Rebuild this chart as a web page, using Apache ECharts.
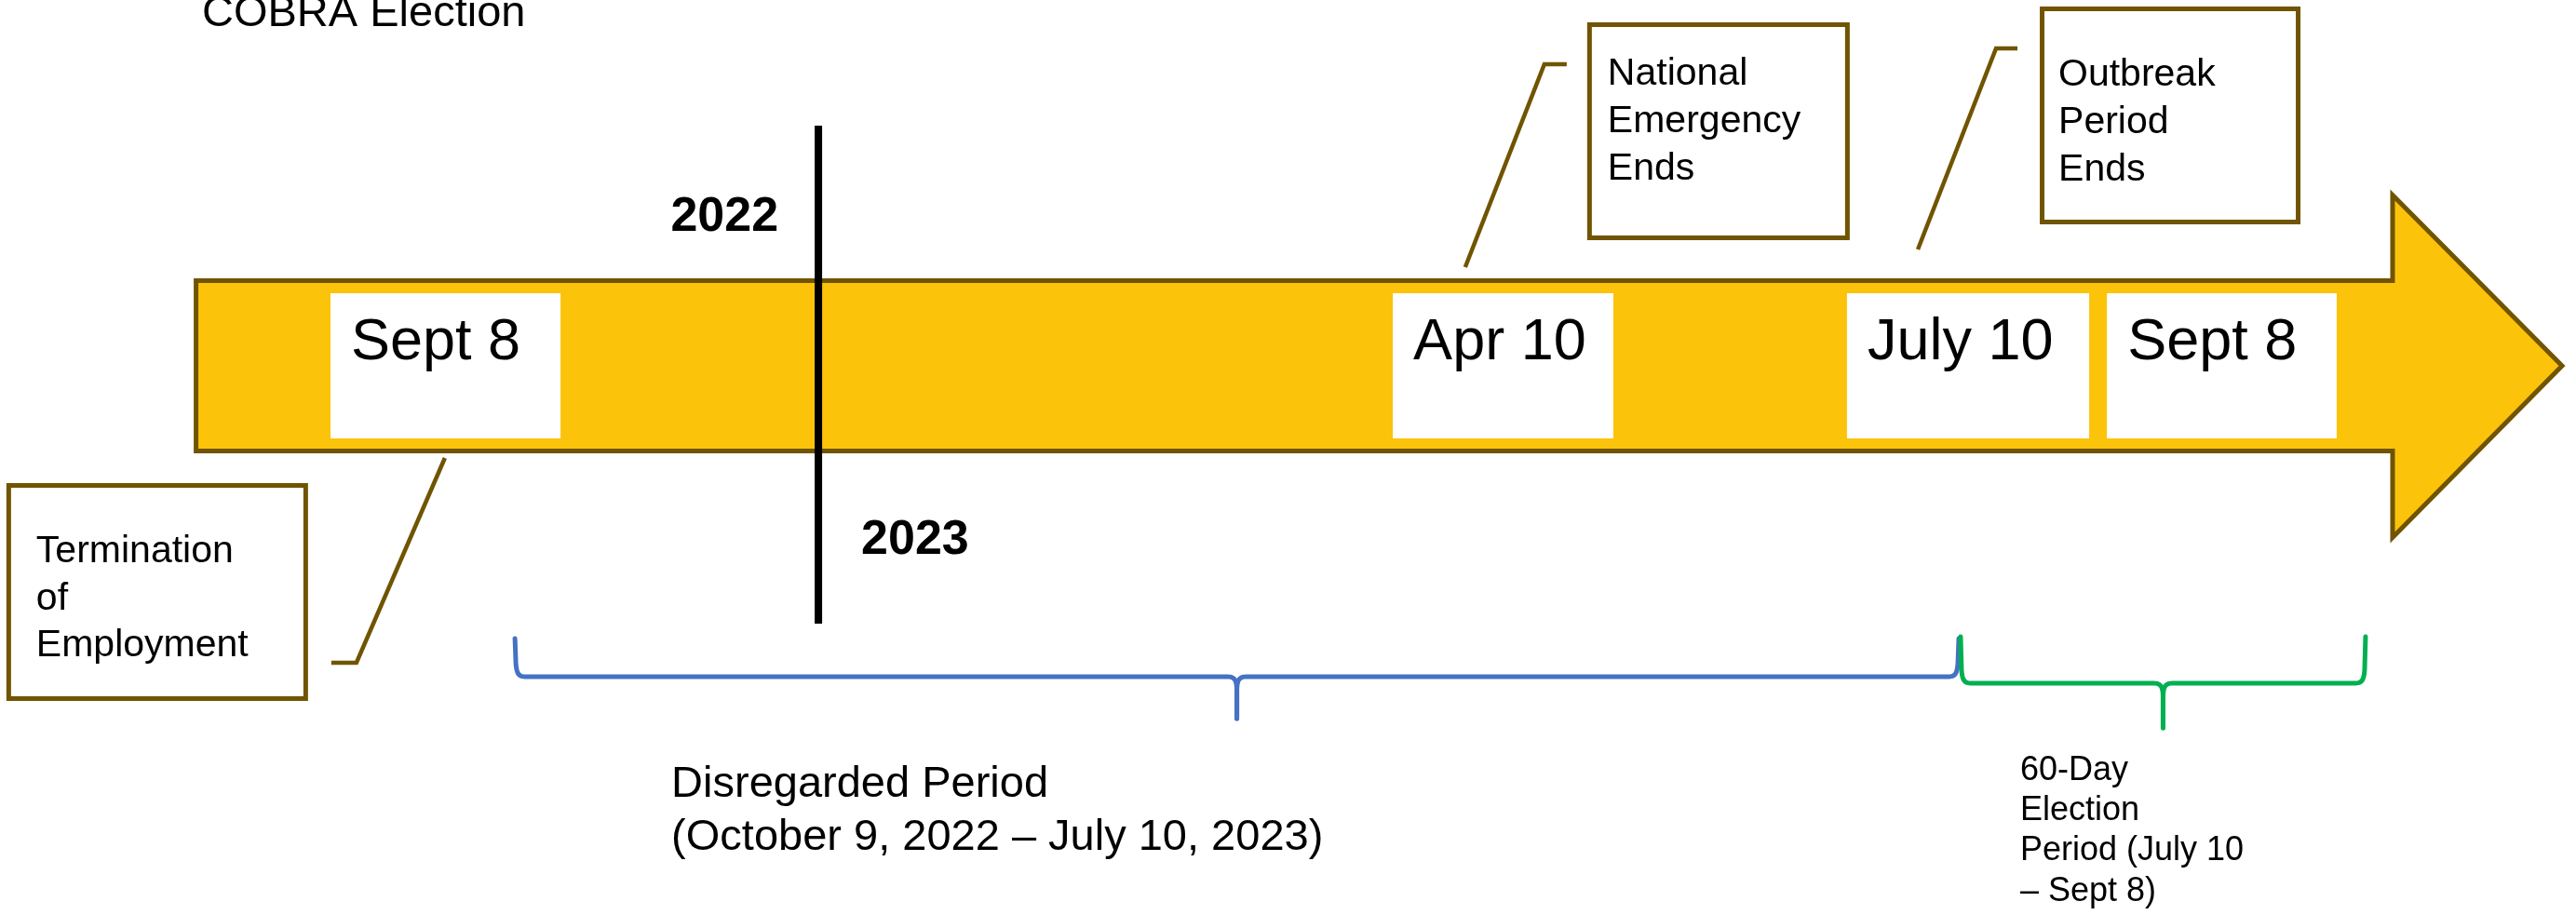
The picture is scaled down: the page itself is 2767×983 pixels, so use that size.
<!DOCTYPE html>
<html><head><meta charset="utf-8">
<script src="https://cdn.jsdelivr.net/npm/echarts@6/dist/echarts.min.js"></script>
<style>html,body{margin:0;padding:0;background:#fff}#c{width:2767px;height:983px}</style>
</head><body><div id="c"></div>
<script>
// ---------- DATA (schematic positions along the timeline, 0–100) ----------
const titleText = 'COBRA Election';
const dateLabels = ['Sept 8', 'Apr 10', 'July 10', 'Sept 8'];
const dateStart = [12.83, 54.07, 71.70, 81.79];
const dateEnd = [21.76, 62.63, 81.10, 90.71];
const timelineRange = [7.61, 92.88, 99.46];          // start, arrow-head base, tip
const yearBoundary = [31.77];
const yearLabels = ['2022', '2023'];
const calloutLabels = ['Termination\nof\nEmployment', 'National\nEmergency\nEnds', 'Outbreak\nPeriod\nEnds'];
const calloutAnchor = [17.27, 56.88, 74.45];
const periodLabels = ['Disregarded Period\n(October 9, 2022 – July 10, 2023)', '60-Day\nElection\nPeriod (July 10\n– Sept 8)'];
const periodStart = [19.99, 76.11];
const periodEnd = [76.04, 91.83];

// ---------- LAYOUT / STYLE ----------
const FONT = '"Liberation Sans", Arial, Helvetica, sans-serif';
const CAP_SHIFT = 0.075;   // em correction: canvas "middle" vs. cap-height centre
const GOLD = '#FCC30B', BROWN = '#705400';
const BAR = {top: 301.5, bottom: 484.5, headTop: 209.5, headBottom: 577.5, mid: 393, lw: 5};
const DATEBOX = {top: 315, bottom: 471, padX: 22, capY: 363.5, fontSize: 63};
const DIVIDER = {top: 135, bottom: 670, width: 8, upperCapY: 230, lowerCapY: 576.5, gapL: 43, gapR: 46, fontSize: 52};
const CALLOUT = [
  {tipY: 492, elbowDx: -95, elbowY: 712, endDx: -122, box: [-471, 519, -147, 753], textDx: 32, textY: 590, fontSize: 41, lh: 50.5},
  {tipY: 287, elbowDx: 85, elbowY: 69, endDx: 109, box: [131, 24, 413, 258], textDx: 22, textY: 77, fontSize: 41, lh: 51},
  {tipY: 268, elbowDx: 84, elbowY: 52, endDx: 107, box: [131, 7, 411, 241], textDx: 20, textY: 78, fontSize: 41, lh: 51}
];
const PERIOD = [
  {color: '#4472C4', top: 686, h: 727, tip: 772, textDx: 168, textY: 840, fontSize: 47, lh: 57},
  {color: '#00B050', top: 684, h: 734, tip: 782, textDx: 64, textY: 825, fontSize: 36, lh: 43.3}
];
const cy = (capCenter, fs) => capCenter + CAP_SHIFT * fs;

function bez(p0, p1, p2, p3, n) {
  const pts = [];
  for (let i = 1; i <= n; i++) {
    const t = i / n, u = 1 - t;
    pts.push([u*u*u*p0[0] + 3*u*u*t*p1[0] + 3*u*t*t*p2[0] + t*t*t*p3[0],
              u*u*u*p0[1] + 3*u*u*t*p1[1] + 3*u*t*t*p2[1] + t*t*t*p3[1]]);
  }
  return pts;
}
function halfBrace(xe, xm, L, dir) {
  const r = 14;
  const pts = [[xe, L.top], [xe + dir * 1, L.h - r]];
  pts.push(...bez([xe + dir, L.h - r], [xe + dir * 2, L.h], [xe + dir * 6, L.h], [xe + dir * r, L.h], 10));
  pts.push([xm - dir * 10, L.h]);
  pts.push(...bez([xm - dir * 10, L.h], [xm - dir * 2, L.h], [xm, L.h + 4], [xm, L.h + 16], 10));
  pts.push([xm, L.tip]);
  return pts;
}

const chart = echarts.init(document.getElementById('c'), null, {renderer: 'canvas'});
const X = (api, v) => api.coord([v, 0])[0];

chart.setOption({
  animation: false,
  backgroundColor: '#ffffff',
  grid: {left: 0, right: 0, top: 0, bottom: 0},
  xAxis: {type: 'value', min: 0, max: 100, show: false},
  yAxis: {type: 'value', min: 0, max: 1, show: false},
  graphic: [{
    type: 'text', x: 217, y: cy(12, 47),
    style: {text: titleText, font: '47px ' + FONT, fill: '#000', verticalAlign: 'middle', align: 'left'}
  }],
  series: [
    { // timeline arrow
      type: 'custom', z: 1,
      data: [timelineRange],
      renderItem: (p, api) => {
        const x0 = X(api, api.value(0)), xn = X(api, api.value(1)), xt = X(api, api.value(2));
        return {type: 'polygon',
          shape: {points: [[x0, BAR.top], [xn, BAR.top], [xn, BAR.headTop], [xt, BAR.mid], [xn, BAR.headBottom], [xn, BAR.bottom], [x0, BAR.bottom]]},
          style: {fill: GOLD, stroke: BROWN, lineWidth: BAR.lw, lineJoin: 'miter'}};
      }
    },
    { // date boxes
      type: 'custom', z: 2,
      data: dateStart.map((s, i) => [s, dateEnd[i]]),
      renderItem: (p, api) => {
        const x0 = X(api, api.value(0)), x1 = X(api, api.value(1));
        return {type: 'group', children: [
          {type: 'rect', shape: {x: x0, y: DATEBOX.top, width: x1 - x0, height: DATEBOX.bottom - DATEBOX.top}, style: {fill: '#fff'}},
          {type: 'text', style: {text: dateLabels[p.dataIndex], x: x0 + DATEBOX.padX, y: cy(DATEBOX.capY, DATEBOX.fontSize),
            font: DATEBOX.fontSize + 'px ' + FONT, fill: '#000', align: 'left', verticalAlign: 'middle'}}
        ]};
      }
    },
    { // year boundary
      type: 'custom', z: 3,
      data: yearBoundary.map(v => [v]),
      renderItem: (p, api) => {
        const x = X(api, api.value(0));
        return {type: 'group', children: [
          {type: 'rect', shape: {x: x - DIVIDER.width / 2, y: DIVIDER.top, width: DIVIDER.width, height: DIVIDER.bottom - DIVIDER.top}, style: {fill: '#000'}},
          {type: 'text', style: {text: yearLabels[0], x: x - DIVIDER.gapL, y: cy(DIVIDER.upperCapY, DIVIDER.fontSize),
            font: 'bold ' + DIVIDER.fontSize + 'px ' + FONT, fill: '#000', align: 'right', verticalAlign: 'middle'}},
          {type: 'text', style: {text: yearLabels[1], x: x + DIVIDER.gapR, y: cy(DIVIDER.lowerCapY, DIVIDER.fontSize),
            font: 'bold ' + DIVIDER.fontSize + 'px ' + FONT, fill: '#000', align: 'left', verticalAlign: 'middle'}}
        ]};
      }
    },
    { // callouts
      type: 'custom', z: 4,
      data: calloutAnchor.map(v => [v]),
      renderItem: (p, api) => {
        const x = X(api, api.value(0));
        const L = CALLOUT[p.dataIndex];
        const bx0 = x + L.box[0], by0 = L.box[1], bx1 = x + L.box[2], by1 = L.box[3];
        return {type: 'group', children: [
          {type: 'polyline', shape: {points: [[x, L.tipY], [x + L.elbowDx, L.elbowY], [x + L.endDx, L.elbowY]]},
            style: {stroke: BROWN, lineWidth: 4.5, fill: null, lineJoin: 'miter'}},
          {type: 'rect', shape: {x: bx0 + 2.5, y: by0 + 2.5, width: bx1 - bx0 - 5, height: by1 - by0 - 5},
            style: {fill: '#fff', stroke: BROWN, lineWidth: 5}},
          {type: 'text', style: {text: calloutLabels[p.dataIndex], x: bx0 + L.textDx, y: cy(L.textY, L.fontSize) - L.lh / 2,
            font: L.fontSize + 'px ' + FONT, lineHeight: L.lh, fill: '#000', align: 'left', verticalAlign: 'top'}}
        ]};
      }
    },
    { // period braces
      type: 'custom', z: 5,
      data: periodStart.map((s, i) => [s, periodEnd[i]]),
      renderItem: (p, api) => {
        const x0 = X(api, api.value(0)), x1 = X(api, api.value(1));
        const xm = (x0 + x1) / 2;
        const L = PERIOD[p.dataIndex];
        const st = {stroke: L.color, lineWidth: 5, fill: null, lineCap: 'round', lineJoin: 'round'};
        return {type: 'group', children: [
          {type: 'polyline', shape: {points: halfBrace(x0, xm, L, 1)}, style: st},
          {type: 'polyline', shape: {points: halfBrace(x1, xm, L, -1)}, style: st},
          {type: 'text', style: {text: periodLabels[p.dataIndex], x: x0 + L.textDx, y: cy(L.textY, L.fontSize) - L.lh / 2,
            font: L.fontSize + 'px ' + FONT, lineHeight: L.lh, fill: '#000', align: 'left', verticalAlign: 'top'}}
        ]};
      }
    }
  ]
});
</script></body></html>
